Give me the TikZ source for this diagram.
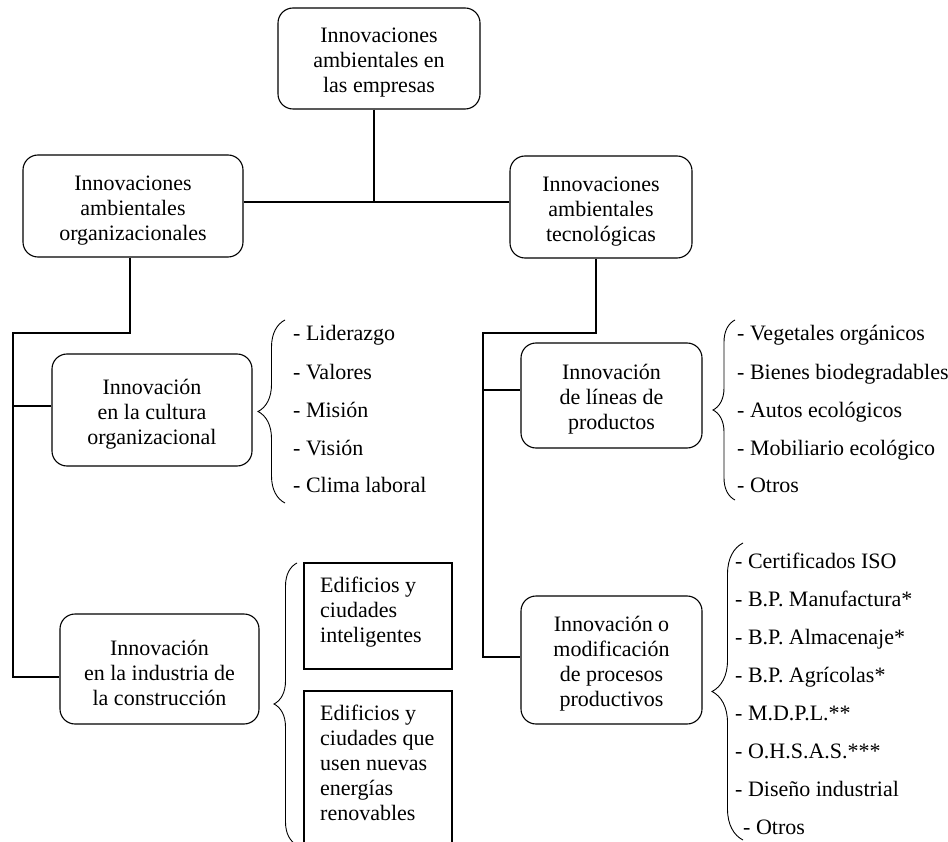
\documentclass[tikz,border=0pt]{standalone}
\usepackage{fontspec}
\setmainfont{Liberation Serif}
\usetikzlibrary{decorations.pathreplacing}
\newcommand{\topstrut}{\rule{0pt}{23pt}}
\begin{document}
\begin{tikzpicture}[x=1pt,y=-1pt,
  box/.style={draw, rounded corners=15pt, line width=1.1pt, align=center, inner sep=0pt, font=\fontsize{22}{25}\selectfont},
  sq/.style={draw, line width=1.1pt, inner sep=0pt},
  sqtext/.style={anchor=north west, align=left, inner sep=0pt, font=\fontsize{22}{25}\selectfont},
  conn/.style={line width=1.6pt},
  item/.style={anchor=base west, inner sep=0pt, font=\fontsize{22}{25}\selectfont},
  brc/.style={decorate, decoration={brace, amplitude=#1}, line width=0.9pt}]
\useasboundingbox (0,0) rectangle (948,842);

% boxes
\node[box, minimum width=202pt, minimum height=101pt] (top) at (379,58.5) {\topstrut Innovaciones\\ambientales en\\las empresas};
\node[box, minimum width=220pt, minimum height=102pt] (org) at (133,206) {\topstrut Innovaciones\\ambientales\\organizacionales};
\node[box, minimum width=182pt, minimum height=102pt] (tec) at (601,207) {\topstrut Innovaciones\\ambientales\\tecnológicas};
\node[box, minimum width=200pt, minimum height=112pt] (cult) at (152,410) {\topstrut Innovación\\en la cultura\\organizacional};
\node[box, minimum width=181pt, minimum height=105pt] (lin) at (611.5,395.5) {\topstrut Innovación\\de líneas de\\productos};
\node[box, minimum width=199pt, minimum height=110pt] (cons) at (159.5,669) {\topstrut Innovación\\en la industria de\\la construcción};
\node[box, minimum width=181pt, minimum height=128pt] (proc) at (611.5,660) {\topstrut Innovación o\\modificación\\de procesos\\productivos};

% square boxes
\node[sq, minimum width=148pt, minimum height=106pt] (sq1) at (378,616) {};
\node[sqtext] (sq1t) at (320,576) {\rule{0pt}{16pt}Edificios y\\ciudades\\inteligentes};
\node[sq, minimum width=148pt, minimum height=180pt] (sq2) at (378,781) {};
\node[sqtext] (sq2t) at (320,704) {\rule{0pt}{16pt}Edificios y\\ciudades que\\usen nuevas\\energías\\renovables};

% connectors
\coordinate (j1) at (374,202);
\draw[conn] (top.south -| j1) -- (j1);
\draw[conn] (org.east |- j1) -- (tec.west |- j1);
\coordinate (j2) at (130,333);
\coordinate (j3) at (13,333);
\coordinate (j4) at (13,677);
\coordinate (j5) at (13,406);
\draw[conn] (org.south -| j2) -- (j2) -- (j3) -- (j4) -- (cons.west |- j4);
\draw[conn] (j5) -- (cult.west |- j5);
\coordinate (k2) at (596,333);
\coordinate (k3) at (483,333);
\coordinate (k4) at (483,657);
\coordinate (k5) at (483,390);
\draw[conn] (tec.south -| k2) -- (k2) -- (k3) -- (k4) -- (proc.west |- k4);
\draw[conn] (k5) -- (lin.west |- k5);

% braces
\coordinate (b1a) at (285,503); \coordinate (b1b) at (285,320);
\draw[brc=27] (b1a) -- (b1b);
\coordinate (b2a) at (735,500); \coordinate (b2b) at (735,320);
\draw[brc=22] (b2a) -- (b2b);
\coordinate (b3a) at (297,845); \coordinate (b3b) at (297,563);
\draw[brc=23] (b3a) -- (b3b);
\coordinate (b4a) at (743,840); \coordinate (b4b) at (743,543);
\draw[brc=31] (b4a) -- (b4b);

% lists
\node[item] (c1) at (293,341) {- Liderazgo};
\node[item] (c2) at (293,379) {- Valores};
\node[item] (c3) at (293,417) {- Misión};
\node[item] (c4) at (293,455) {- Visión};
\node[item] (c5) at (293,492) {- Clima laboral};

\node[item] (p1) at (737,341) {- Vegetales orgánicos};
\node[item] (p2) at (737,379) {- Bienes biodegradables};
\node[item] (p3) at (737,417) {- Autos ecológicos};
\node[item] (p4) at (737,455) {- Mobiliario ecológico};
\node[item] (p5) at (737,492) {- Otros};

\node[item] (q1) at (735,568) {- Certificados ISO};
\node[item] (q2) at (735,606) {- B.P. Manufactura*};
\node[item] (q3) at (735,644) {- B.P. Almacenaje*};
\node[item] (q4) at (735,682) {- B.P. Agrícolas*};
\node[item] (q5) at (735,720) {- M.D.P.L.**};
\node[item] (q6) at (735,758) {- O.H.S.A.S.***};
\node[item] (q7) at (735,796) {- Diseño industrial};
\node[item] (q8) at (743,834) {- Otros};
\end{tikzpicture}
\end{document}
